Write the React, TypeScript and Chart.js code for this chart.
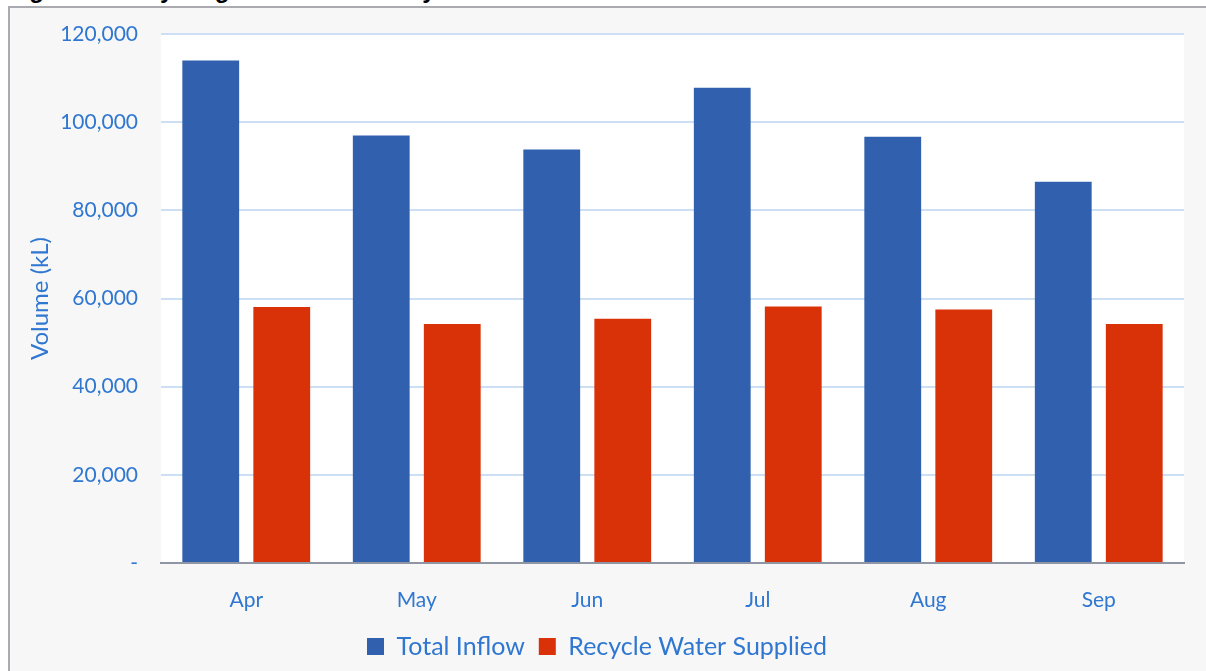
import React, { useEffect, useRef } from "react";
import { Chart, registerables } from "chart.js";

Chart.register(...registerables);

const months = ["Apr", "May", "Jun", "Jul", "Aug", "Sep"];
const totalInflow = [114000, 97000, 93800, 107800, 96700, 86500];
const recycleWater = [58100, 54200, 55400, 58200, 57500, 54200];
const seriesNames = ["Total Inflow", "Recycle Water Supplied"];
const yTicksMax = 120000;
const yTicksStep = 20000;

const TEXT_BLUE = "#2f77d1";
const FONT = "Lato, 'Noto Sans', sans-serif";

const plotBg = {
  id: "plotBg",
  beforeDraw(chart: any) {
    const { ctx, chartArea } = chart;
    if (!chartArea) return;
    ctx.save();
    ctx.fillStyle = "#ffffff";
    ctx.fillRect(chartArea.left, chartArea.top, chartArea.right - chartArea.left, chartArea.bottom - chartArea.top);
    ctx.restore();
  },
};

export default function App() {
  const ref = useRef<HTMLCanvasElement | null>(null);

  useEffect(() => {
    if (!ref.current) return;
    const chart = new Chart(ref.current, {
      type: "bar",
      data: {
        labels: months,
        datasets: [
          {
            label: seriesNames[0],
            data: totalInflow,
            backgroundColor: "#3060ae",
            categoryPercentage: 0.833,
            barPercentage: 0.8,
          },
          {
            label: seriesNames[1],
            data: recycleWater,
            backgroundColor: "#d93209",
            categoryPercentage: 0.833,
            barPercentage: 0.8,
          },
        ],
      },
      plugins: [plotBg],
      options: {
        animation: false,
        responsive: false,
        maintainAspectRatio: false,
        layout: { padding: { top: 26, right: 22, left: 0, bottom: 2 } },
        plugins: {
          tooltip: { enabled: false },
          legend: {
            position: "bottom",
            labels: {
              boxWidth: 17,
              boxHeight: 17,
              padding: 14,
              color: TEXT_BLUE,
              font: { family: FONT, size: 25 },
            },
          },
        },
        scales: {
          x: {
            grid: { display: false, drawTicks: false },
            border: { display: true, color: "#8f95a3", width: 2 },
            ticks: { color: TEXT_BLUE, font: { family: FONT, size: 21 }, padding: 25 },
            afterFit(scale: any) {
              scale.height = 57;
            },
          },
          y: {
            min: 0,
            max: yTicksMax,
            grid: { color: "#cddff5", lineWidth: 2, drawTicks: false },
            border: { display: false },
            ticks: {
              stepSize: yTicksStep,
              color: TEXT_BLUE,
              font: { family: FONT, size: 21 },
              padding: 23,
              callback: (v: any) => (Number(v) === 0 ? "-" : Number(v).toLocaleString("en-US")),
            },
            title: {
              display: true,
              text: "Volume (kL)",
              color: TEXT_BLUE,
              font: { family: FONT, size: 24 },
              padding: { top: 16, bottom: 0 },
            },
            afterFit(scale: any) {
              scale.width = 151;
              scale.paddingTop = 0;
              scale.paddingBottom = 0;
            },
          },
        },
      },
    });
    return () => chart.destroy();
  }, []);

  return (
    <div style={{ position: "fixed", left: 0, top: 0, width: 1206, height: 671, overflow: "hidden", background: "#fff" }}>
      <div
        style={{
          position: "absolute",
          left: 8,
          top: -22,
          fontFamily: "'Liberation Sans', Arial, sans-serif",
          fontWeight: "bold",
          fontSize: 24,
          lineHeight: "24px",
          color: "#000",
          whiteSpace: "nowrap",
        }}
      >
        Figure 4: Recycling vs Total Inflow by Month 2019
      </div>
      <div
        style={{
          position: "absolute",
          left: 8,
          top: 6,
          width: 1230,
          height: 700,
          background: "#f7f7f7",
          borderTop: "2px solid #a9abb1",
          borderLeft: "2px solid #a9abb1",
        }}
      />
      <canvas
        ref={ref}
        width={1196}
        height={663}
        style={{ position: "absolute", left: 10, top: 8, width: 1196, height: 663 }}
      />
    </div>
  );
}
